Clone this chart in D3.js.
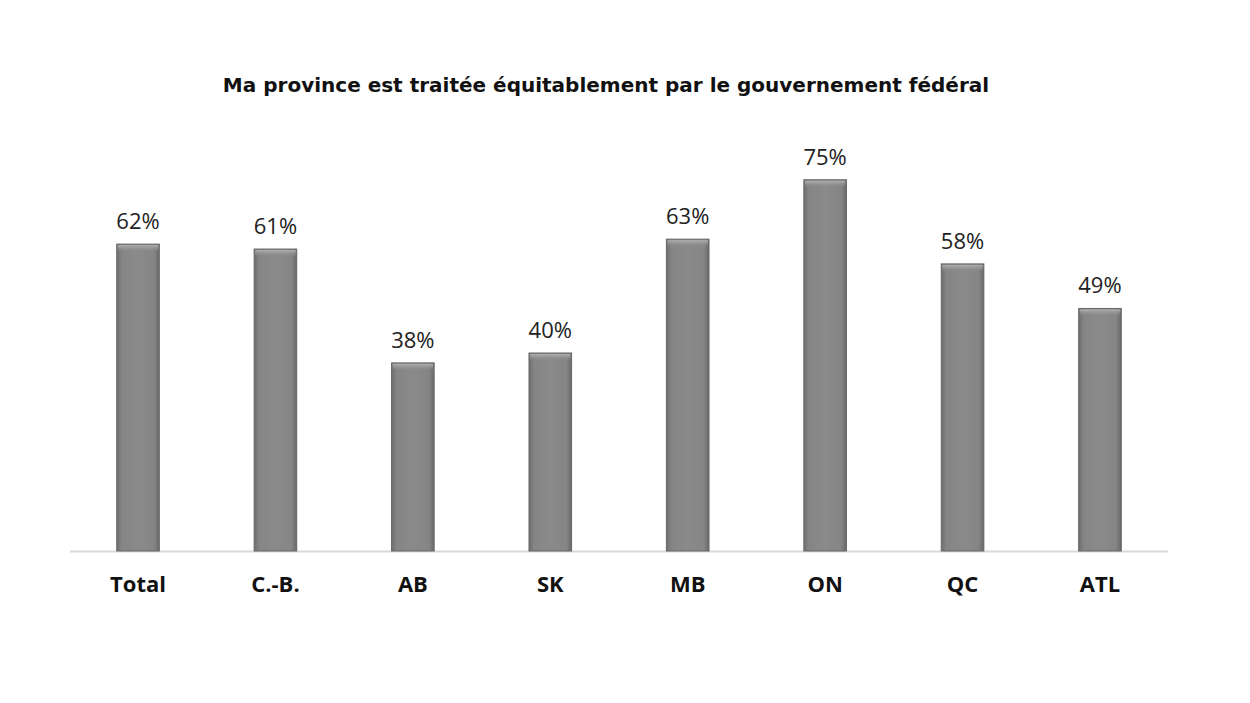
<!DOCTYPE html>
<html>
<head>
<meta charset="utf-8">
<script src="https://cdn.jsdelivr.net/npm/d3@7/dist/d3.min.js"></script>
<style>
  html, body { margin: 0; padding: 0; background: #fff; }
  svg { display: block; }
</style>
</head>
<body>
<svg id="chart" width="1250" height="703"></svg>
<script>
const categories = ["Total", "C.-B.", "AB", "SK", "MB", "ON", "QC", "ATL"];
const values = [62, 61, 38, 40, 63, 75, 58, 49];
const title = "Ma province est traitée équitablement par le gouvernement fédéral";

const svg = d3.select("#chart");
const x0 = 70, x1 = 1168, yBase = 551;

const x = d3.scaleBand().domain(categories).range([x0, x1]).paddingInner(0.69).paddingOuter(0.34);
const y = d3.scaleLinear().domain([0, 100]).range([yBase, 56]);

const defs = svg.append("defs");
const g1 = defs.append("linearGradient").attr("id", "barGrad").attr("x1", "0").attr("x2", "1").attr("y1", "0").attr("y2", "0");
g1.append("stop").attr("offset", "0").attr("stop-color", "#6e6e6e");
g1.append("stop").attr("offset", "0.12").attr("stop-color", "#858585");
g1.append("stop").attr("offset", "0.5").attr("stop-color", "#8a8a8a");
g1.append("stop").attr("offset", "0.88").attr("stop-color", "#858585");
g1.append("stop").attr("offset", "1").attr("stop-color", "#686868");
const g2 = defs.append("linearGradient").attr("id", "topGrad").attr("x1", "0").attr("x2", "0").attr("y1", "0").attr("y2", "1");
g2.append("stop").attr("offset", "0").attr("stop-color", "#b0b0b0");
g2.append("stop").attr("offset", "1").attr("stop-color", "#8a8a8a").attr("stop-opacity", 0);

svg.append("text")
  .attr("x", 606).attr("y", 92)
  .attr("text-anchor", "middle")
  .attr("font-family", "'DejaVu Sans', sans-serif")
  .attr("font-weight", "bold")
  .attr("font-size", 20)
  .attr("fill", "#111")
  .text(title);

svg.append("line")
  .attr("x1", x0).attr("x2", x1)
  .attr("y1", yBase + 0.5).attr("y2", yBase + 0.5)
  .attr("stroke", "#d9d9d9").attr("stroke-width", 2);

const bars = svg.append("g").selectAll("g").data(categories).join("g");
bars.append("rect")
  .attr("x", d => x(d))
  .attr("y", (d, i) => y(values[i]))
  .attr("width", x.bandwidth())
  .attr("height", (d, i) => yBase - y(values[i]))
  .attr("fill", "url(#barGrad)")
  .attr("stroke", "#666").attr("stroke-width", 1);
bars.append("rect")
  .attr("x", d => x(d) + 1)
  .attr("y", (d, i) => y(values[i]) + 1)
  .attr("width", x.bandwidth() - 2)
  .attr("height", 7)
  .attr("fill", "url(#topGrad)");

bars.append("text")
  .attr("x", d => x(d) + x.bandwidth() / 2)
  .attr("y", (d, i) => y(values[i]) - 15)
  .attr("text-anchor", "middle")
  .attr("font-family", "'Open Sans', sans-serif")
  .attr("font-size", 22)
  .attr("fill", "#222")
  .text((d, i) => values[i] + "%");

const axis = d3.axisBottom(x).tickSize(0).tickPadding(0);
const ag = svg.append("g").attr("transform", `translate(0,${yBase})`).call(axis);
ag.select(".domain").remove();
ag.selectAll("text")
  .attr("dy", 0)
  .attr("y", 41)
  .attr("font-family", "'Open Sans', sans-serif")
  .attr("font-weight", "bold")
  .attr("font-size", 22)
  .attr("fill", "#111");
</script>
</body>
</html>
